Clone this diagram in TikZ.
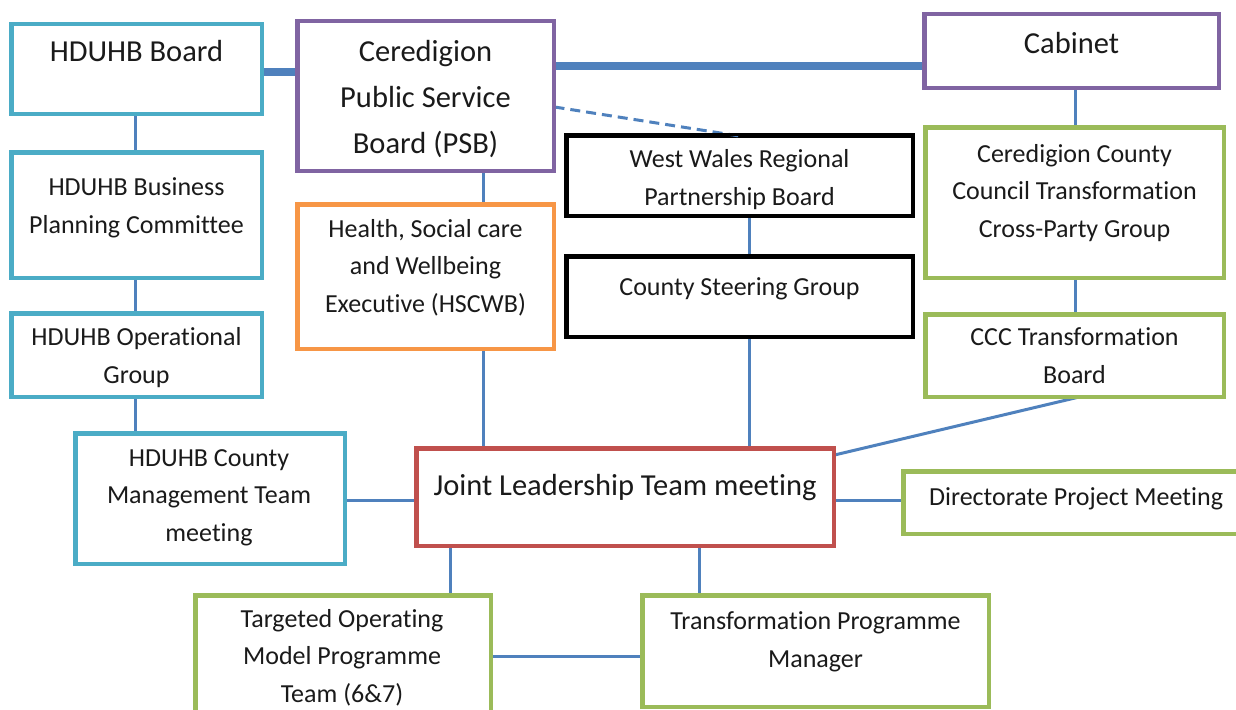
\documentclass[tikz,border=0pt]{standalone}
\usepackage{fontspec}
\setmainfont{Carlito}[Ligatures=NoCommon]
\begin{document}
\definecolor{tealbox}{HTML}{4BACC6}
\definecolor{purplebox}{HTML}{8064A2}
\definecolor{orangebox}{HTML}{F79646}
\definecolor{greenbox}{HTML}{9BBB59}
\definecolor{redbox}{HTML}{C0504D}
\definecolor{linkblue}{HTML}{4F81BD}
\definecolor{ink}{HTML}{1A1A1A}
\begin{tikzpicture}[x=1pt,y=-1pt,
  box/.style={draw=#1, line width=3pt, fill=white, rectangle, inner sep=0pt},
  % labels are placed by the baseline of their last line
  txt/.style={anchor=base, align=center, inner sep=0pt, text=ink,
    font=\fontsize{26}{37.5}\selectfont},
  bigtxt/.style={anchor=base, align=center, inner sep=0pt, text=ink,
    font=\fontsize{30.5}{46}\selectfont},
  link/.style={draw=linkblue, line width=3pt},
  thicklink/.style={draw=linkblue, line width=8pt},
  dashlink/.style={draw=linkblue, line width=3pt, dash pattern=on 10pt off 6pt}]
\path[use as bounding box, clip] (0,0) rectangle (1236,709);
\fill[white] (0,0) rectangle (1236,709);

\coordinate (hbR) at (261,72);
\coordinate (psbL) at (298,72);
\coordinate (psbR) at (553,66);
\coordinate (cabL) at (925,66);

% boxes: left column (health board)
\node[box=tealbox, minimum width=249, minimum height=88] (hb) at (136.5,69) {};
\node[box=tealbox, minimum width=249, minimum height=124] (bpc) at (136.5,215) {};
\node[box=tealbox, minimum width=249, minimum height=82] (og) at (136.5,355) {};
\node[box=tealbox, minimum width=268, minimum height=129] (cmt) at (210,498.5) {};

% centre column
\node[box=purplebox, minimum width=255, minimum height=148] (psb) at (425.5,96) {};
\node[box=orangebox, minimum width=255, minimum height=143] (hscwb) at (425.5,276.5) {};
\node[box=black, minimum width=345, minimum height=79] (wwrpb) at (739.5,175.5) {};
\node[box=black, minimum width=345, minimum height=79] (csg) at (739.5,296.5) {};
\node[box=redbox, minimum width=416, minimum height=96] (jlt) at (625,497) {};

% right column (council)
\node[box=purplebox, minimum width=293, minimum height=72] (cab) at (1071.5,51) {};
\node[box=greenbox, minimum width=297, minimum height=149] (cct) at (1074.5,202.5) {};
\node[box=greenbox, minimum width=297, minimum height=81] (cccb) at (1074.5,355.5) {};
\node[box=greenbox, minimum width=346, minimum height=61] (dpm) at (1077,502.5) {};

% bottom row
\node[box=greenbox, minimum width=294, minimum height=124] (tom) at (343,658) {};
\node[box=greenbox, minimum width=345, minimum height=110] (tpm) at (815.5,651) {};

% links
\draw[thicklink] (hb.east |- hbR) -- (psb.west |- psbL);
\draw[thicklink] (psb.east |- psbR) -- (cab.west |- cabL);
\draw[dashlink] (psb.east |- 0,107) -- (707,136 -| wwrpb.north);
\draw[link] (hb.south -| 135,0) -- (bpc.north -| 135,0);
\draw[link] (bpc.south -| 135,0) -- (og.north -| 135,0);
\draw[link] (og.south -| 135,0) -- (cmt.north -| 135,0);
\draw[link] (psb.south -| 483,0) -- (hscwb.north -| 483,0);
\draw[link] (hscwb.south -| 483,0) -- (jlt.north -| 483,0);
\draw[link] (wwrpb.south -| 749,0) -- (csg.north -| 749,0);
\draw[link] (csg.south -| 749,0) -- (jlt.north -| 749,0);
\draw[link] (cab.south -| 1075,0) -- (cct.north -| 1075,0);
\draw[link] (cct.south -| 1075,0) -- (cccb.north -| 1075,0);
\draw[link] (cccb.south -| 1077,0) -- (jlt.east |- 0,455);
\draw[link] (cmt.east |- 0,500) -- (jlt.west |- 0,500);
\draw[link] (jlt.east |- 0,500) -- (dpm.west |- 0,500);
\draw[link] (jlt.south -| 450,0) -- (tom.north -| 450,0);
\draw[link] (jlt.south -| 699,0) -- (tpm.north -| 699,0);
\draw[link] (tom.east |- 0,656) -- (tpm.west |- 0,656);

% redraw box outlines over the link ends
\foreach \n/\c in {hb/tealbox,bpc/tealbox,og/tealbox,cmt/tealbox,psb/purplebox,
  hscwb/orangebox,wwrpb/black,csg/black,jlt/redbox,cab/purplebox,cct/greenbox,
  cccb/greenbox,dpm/greenbox,tom/greenbox,tpm/greenbox}
  \draw[\c, line width=3pt] (\n.north west) rectangle (\n.south east);

% labels
\node[bigtxt] (hbt) at (136.5,61) {HDUHB Board};
\node[txt] (bpct) at (136.5,233) {HDUHB Business\\Planning Committee};
\node[txt] (ogt) at (136.5,383) {HDUHB Operational\\Group};
\node[txt] (cmtt) at (209,541) {HDUHB County\\Management Team\\meeting};
\node[bigtxt] (psbt) at (425.5,153) {Ceredigion\\Public Service\\Board (PSB)};
\node[txt] (hscwbt) at (425.5,312) {Health, Social care\\and Wellbeing\\Executive (HSCWB)};
\node[txt] (wwrpbt) at (739.5,205) {West Wales Regional\\Partnership Board};
\node[txt] (csgt) at (739.5,295) {County Steering Group};
\node[bigtxt] (jltt) at (625,495) {Joint Leadership Team meeting};
\node[bigtxt] (cabt) at (1071.5,53) {Cabinet};
\node[txt] (cctt) at (1074.5,237) {Ceredigion County\\Council Transformation\\Cross-Party Group};
\node[txt] (cccbt) at (1074.5,383) {CCC Transformation\\Board};
\node[txt] (dpmt) at (1076,505) {Directorate Project Meeting};
\node[txt] (tomt) at (342,702) {Targeted Operating\\Model Programme\\Team (6\&7)};
\node[txt] (tpmt) at (815.5,667) {Transformation Programme\\Manager};
\end{tikzpicture}
\end{document}
